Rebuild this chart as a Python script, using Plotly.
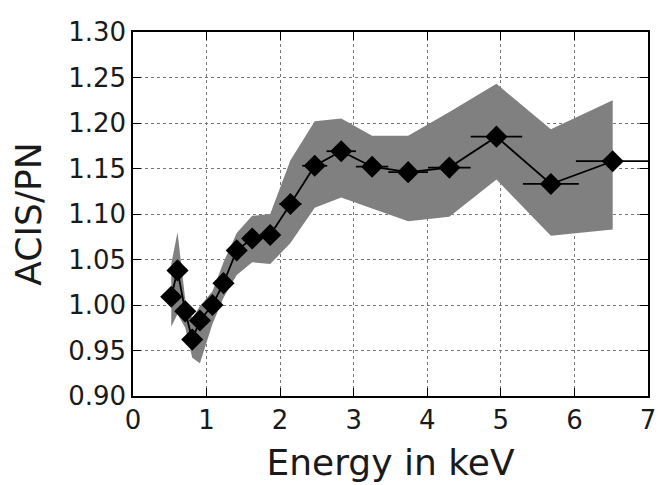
import plotly.graph_objects as go

# Energy bins (keV) and ACIS/PN ratio
energy = [0.52, 0.605, 0.71, 0.805, 0.91, 1.08, 1.23, 1.41, 1.62, 1.865,
          2.14, 2.47, 2.83, 3.25, 3.74, 4.30, 4.94, 5.68, 6.52]
ratio = [1.009, 1.038, 0.993, 0.962, 0.983, 1.000, 1.024, 1.060, 1.073, 1.077,
         1.111, 1.153, 1.169, 1.152, 1.146, 1.151, 1.185, 1.133, 1.158]
energy_err = [0.04, 0.05, 0.05, 0.05, 0.05, 0.08, 0.08, 0.10, 0.12, 0.13,
              0.15, 0.17, 0.20, 0.22, 0.27, 0.29, 0.35, 0.38, 0.50]

# shaded uncertainty band
band_upper = [1.045, 1.080, 1.006, 0.985, 0.999, 1.015, 1.047, 1.079, 1.098, 1.100,
              1.159, 1.202, 1.205, 1.186, 1.186, 1.212, 1.243, 1.193, 1.225]
band_lower = [0.976, 0.990, 0.975, 0.942, 0.936, 0.979, 1.008, 1.033, 1.047, 1.045,
              1.068, 1.107, 1.118, 1.106, 1.092, 1.097, 1.138, 1.076, 1.083]

x_ticks = [0, 1, 2, 3, 4, 5, 6, 7]
y_ticks = [0.90, 0.95, 1.00, 1.05, 1.10, 1.15, 1.20, 1.25, 1.30]

FONT = "DejaVu Sans"

fig = go.Figure()

# band as closed polygon
fig.add_trace(go.Scatter(
    x=energy + energy[::-1],
    y=band_upper + band_lower[::-1],
    fill='toself',
    fillcolor='#808080',
    line=dict(width=0, color='#808080'),
    mode='lines',
    hoverinfo='skip',
    showlegend=False
))

fig.add_trace(go.Scatter(
    x=energy,
    y=ratio,
    mode='lines+markers',
    line=dict(color='black', width=1.8),
    marker=dict(symbol='diamond', size=17, color='black'),
    error_x=dict(type='data', array=energy_err, color='black', thickness=1.8, width=0),
    showlegend=False
))

axis_common = dict(
    showline=True,
    linecolor='black',
    linewidth=1.5,
    mirror='ticks',
    ticks='inside',
    ticklen=8,
    tickwidth=1,
    tickcolor='black',
    showgrid=True,
    gridcolor='#777777',
    gridwidth=1,
    griddash='dot',
    zeroline=False,
    tickfont=dict(family=FONT, size=26, color='#1a1a1a'),
)

fig.update_xaxes(
    range=[0, 7],
    tickvals=x_ticks,
    ticktext=[str(t) for t in x_ticks],
    title=dict(text='Energy in keV', font=dict(family=FONT, size=36, color='#1a1a1a'), standoff=16),
    **axis_common
)
fig.update_yaxes(
    range=[0.90, 1.30],
    tickvals=y_ticks,
    ticktext=[f"{t:.2f}" for t in y_ticks],
    title=dict(text='ACIS/PN', font=dict(family=FONT, size=36, color='#1a1a1a'), standoff=22),
    **axis_common
)

# page body adds an 8px offset, so the figure is sized to land on the reference frame
fig.update_layout(
    width=657,
    height=477,
    margin=dict(l=125, r=9, t=15, b=88),
    plot_bgcolor='white',
    paper_bgcolor='white',
    showlegend=False
)

fig.write_html("out.html")
